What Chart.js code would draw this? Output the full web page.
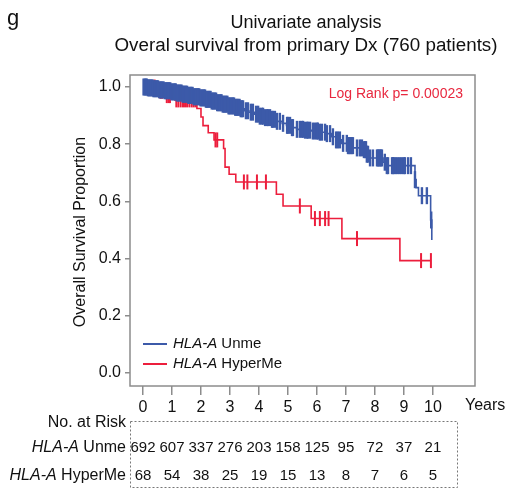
<!DOCTYPE html>
<html>
<head>
<meta charset="utf-8">
<script src="https://cdn.jsdelivr.net/npm/chart.js@4.4.1/dist/chart.umd.min.js"></script>
<style>
  html, body { margin: 0; padding: 0; background: #fff; }
</style>
</head>
<body>
<canvas id="km" width="517" height="497"></canvas>
<script>
// survival steps (time in years, proportion)
const unmeTimes = [0, 0.15, 0.35, 0.55, 0.75, 0.95, 1.15, 1.35, 1.55, 1.75, 1.95, 2.15, 2.35, 2.55, 2.75, 2.95,
  3.15, 3.35, 3.5, 3.65, 3.85, 4.0, 4.2, 4.4, 4.6, 4.8, 4.95, 5.1, 5.3, 5.55, 5.8, 6.05, 6.3, 6.5, 6.65, 6.85,
  7.05, 7.25, 7.6, 7.72, 7.78, 8.28, 8.35, 9.38, 9.42, 9.5, 9.92, 9.96];
const unmeSurv = [1.0, 0.997, 0.994, 0.99, 0.987, 0.983, 0.979, 0.975, 0.971, 0.966, 0.962, 0.957, 0.951, 0.945, 0.94, 0.934,
  0.929, 0.924, 0.917, 0.912, 0.905, 0.898, 0.893, 0.887, 0.88, 0.873, 0.866, 0.858, 0.852, 0.849, 0.846, 0.842, 0.837, 0.826, 0.815, 0.803,
  0.795, 0.787, 0.781, 0.765, 0.752, 0.737, 0.725, 0.676, 0.648, 0.62, 0.535, 0.465];
const unmeCensor = [0.02, 0.06, 0.1, 0.13, 0.17, 0.21, 0.25, 0.29, 0.33, 0.36, 0.4, 0.44, 0.48, 0.52, 0.56, 0.6, 0.63,
  0.67, 0.71, 0.75, 0.79, 0.83, 0.86, 0.9, 0.94, 0.98, 1.02, 1.06, 1.1, 1.13, 1.17, 1.21, 1.25, 1.29, 1.33, 1.37,
  1.4, 1.44, 1.48, 1.52, 1.56, 1.6, 1.64, 1.67, 1.71, 1.75, 1.79, 1.83, 1.87, 1.9, 1.94, 1.98, 2.02, 2.06, 2.1, 2.14,
  2.17, 2.21, 2.25, 2.29, 2.33, 2.37, 2.41, 2.44, 2.48, 2.52, 2.56, 2.6, 2.64, 2.68, 2.71, 2.75, 2.79, 2.83, 2.87,
  2.91, 2.95, 2.98, 3.02, 3.06, 3.1, 3.14, 3.18, 3.22, 3.25, 3.29, 3.33, 3.37, 3.41, 3.45,
  3.55, 3.62, 3.72, 3.79, 3.9, 3.97, 4.03, 4.1, 4.14, 4.21, 4.28, 4.31, 4.38, 4.45, 4.48, 4.55, 4.62,
  4.72, 4.83, 4.97, 5.0, 5.07, 5.14, 5.17, 5.31, 5.41, 5.48, 5.52, 5.59, 5.66, 5.69, 5.76, 5.86, 5.93, 6.0, 6.03, 6.1,
  6.17, 6.28, 6.34, 6.45, 6.55, 6.66, 6.72, 6.79, 6.9, 7.03, 7.07, 7.1, 7.14, 7.17, 7.21, 7.24, 7.38, 7.48, 7.55, 7.62,
  7.66, 7.69, 7.72, 7.76, 7.83, 7.93, 8.07, 8.1, 8.14, 8.17, 8.21, 8.24, 8.34, 8.41, 8.45, 8.59, 8.62, 8.66, 8.72, 8.79,
  8.86, 8.93, 9.0, 9.03, 9.14, 9.24, 9.38, 9.62, 9.79, 9.94];

const hyperTimes = [0, 0.55, 0.75, 1.1, 1.86, 2.0, 2.07, 2.25, 2.45, 2.78, 2.83, 2.97, 3.2, 4.6, 4.83, 5.8, 6.86, 8.86, 9.93];
const hyperSurv = [1.0, 0.985, 0.97, 0.955, 0.925, 0.895, 0.865, 0.84, 0.815, 0.785, 0.72, 0.695, 0.668, 0.625, 0.584, 0.54, 0.47, 0.393, 0.393];
const hyperCensor = [0.4, 0.6, 0.66, 0.82, 0.88, 0.93, 1.15, 1.22, 1.3, 1.38, 1.45, 1.52, 1.6, 1.68, 1.75, 1.82,
  2.5, 2.56, 3.48, 3.6, 3.93, 4.24, 5.41, 5.93, 6.1, 6.28, 6.4, 7.38, 9.59, 9.93];

const years = [0, 1, 2, 3, 4, 5, 6, 7, 8, 9, 10];
const yTicks = [0, 0.2, 0.4, 0.6, 0.8, 1.0];
const riskUnme = [692, 607, 337, 276, 203, 158, 125, 95, 72, 37, 21];
const riskHyper = [68, 54, 38, 25, 19, 15, 13, 8, 7, 6, 5];

const BLUE = '#3c5aa9';
const RED = '#ec1e3c';
const FONT = '"Liberation Sans", Arial, sans-serif';

function survAt(times, surv, t) {
  let s = surv[0];
  for (let i = 0; i < times.length; i++) {
    if (times[i] <= t) s = surv[i];
  }
  return s;
}

function curve(times, surv, color) {
  return {
    data: times.map((t, i) => ({x: t, y: surv[i]})),
    showLine: true, stepped: true,
    borderColor: color, borderWidth: 1.6,
    pointRadius: 0, fill: false
  };
}

function censor(ct, times, surv, color, w, r) {
  return {
    data: ct.map(t => ({x: t, y: survAt(times, surv, t)})),
    showLine: false,
    pointStyle: 'line', pointRotation: 90, pointRadius: r,
    pointBorderColor: color, pointBorderWidth: w, borderColor: color
  };
}

// "HLA-A" in italics followed by plain text
function mixedText(ctx, x, y, rest, size, align) {
  ctx.font = 'italic ' + size + 'px ' + FONT;
  const w1 = ctx.measureText('HLA-A').width;
  ctx.font = size + 'px ' + FONT;
  const w2 = ctx.measureText(rest).width;
  let x0 = align === 'right' ? x - w1 - w2 : x;
  ctx.textAlign = 'left';
  ctx.font = 'italic ' + size + 'px ' + FONT;
  ctx.fillText('HLA-A', x0, y);
  ctx.font = size + 'px ' + FONT;
  ctx.fillText(rest, x0 + w1, y);
}

const decor = {
  id: 'decor',
  afterDatasetsDraw(chart) {
    const ctx = chart.ctx;
    const a = chart.chartArea;
    const xs = chart.scales.x;
    ctx.save();
    // frame
    ctx.strokeStyle = '#8c8c8c';
    ctx.lineWidth = 1.5;
    ctx.strokeRect(a.left, a.top, a.right - a.left, a.bottom - a.top);

    ctx.fillStyle = '#111';
    ctx.textBaseline = 'middle';
    ctx.font = '22px ' + FONT;
    ctx.textAlign = 'left';
    ctx.fillText('g', 7, 19);

    ctx.textAlign = 'center';
    ctx.font = '18px ' + FONT;
    ctx.fillText('Univariate analysis', 306, 23);
    ctx.font = '18.8px ' + FONT;
    ctx.fillText('Overal survival from primary Dx (760 patients)', 306, 46);

    ctx.fillStyle = '#e8283f';
    ctx.font = '14px ' + FONT;
    ctx.textAlign = 'right';
    ctx.fillText('Log Rank p= 0.00023', 463, 94);

    // y title
    ctx.fillStyle = '#111';
    ctx.save();
    ctx.translate(81, 232);
    ctx.rotate(-Math.PI / 2);
    ctx.font = '16px ' + FONT;
    ctx.textAlign = 'center';
    ctx.fillText('Overall Survival Proportion', 0, 0);
    ctx.restore();

    ctx.font = '16px ' + FONT;
    ctx.textAlign = 'left';
    ctx.fillText('Years', 465, 406);

    // legend
    ctx.lineWidth = 2;
    [[BLUE, ' Unme', 344], [RED, ' HyperMe', 364]].forEach(([c, t, y]) => {
      ctx.strokeStyle = c;
      ctx.beginPath();
      ctx.moveTo(143, y);
      ctx.lineTo(167, y);
      ctx.stroke();
      ctx.fillStyle = '#111';
      mixedText(ctx, 173, y, t, 15, 'left');
    });

    // number at risk table
    ctx.fillStyle = '#111';
    ctx.font = '16px ' + FONT;
    ctx.textAlign = 'right';
    ctx.fillText('No. at Risk', 126, 423);
    ctx.strokeStyle = '#777';
    ctx.lineWidth = 1;
    ctx.setLineDash([2, 2]);
    ctx.strokeRect(130.5, 421.5, 327, 66);
    ctx.setLineDash([]);
    mixedText(ctx, 126, 448, ' Unme', 16, 'right');
    mixedText(ctx, 126, 476, ' HyperMe', 16, 'right');
    ctx.font = '15px ' + FONT;
    ctx.textAlign = 'center';
    years.forEach((yr, i) => {
      const px = xs.getPixelForValue(yr);
      ctx.fillText(String(riskUnme[i]), px, 448);
      ctx.fillText(String(riskHyper[i]), px, 476);
    });
    ctx.restore();
  }
};

new Chart(document.getElementById('km'), {
  type: 'scatter',
  data: {
    datasets: [
      censor(unmeCensor, unmeTimes, unmeSurv, BLUE, 2.4, 8.5),
      curve(unmeTimes, unmeSurv, BLUE),
      censor(hyperCensor, hyperTimes, hyperSurv, RED, 2, 7.5),
      curve(hyperTimes, hyperSurv, RED)
    ]
  },
  options: {
    responsive: false,
    animation: false,
    events: [],
    layout: { padding: { left: 0, right: 42, top: 75, bottom: 0 } },
    plugins: { legend: { display: false }, tooltip: { enabled: false } },
    scales: {
      x: {
        type: 'linear', min: -0.448, max: 11.45,
        afterBuildTicks: ax => { ax.ticks = years.map(v => ({value: v})); },
        afterFit: ax => { ax.height = 111; },
        grid: { drawOnChartArea: false, drawTicks: true, tickLength: 9, color: '#8c8c8c', lineWidth: 1.5 },
        border: { display: false },
        ticks: { color: '#111', font: { family: FONT, size: 16 }, padding: 3, maxRotation: 0, autoSkip: false,
          callback: v => String(v) }
      },
      y: {
        type: 'linear', min: -0.0455, max: 1.042,
        afterBuildTicks: ax => { ax.ticks = yTicks.map(v => ({value: v})); },
        afterFit: ax => { ax.width = 130; },
        grid: { drawOnChartArea: false, drawTicks: true, tickLength: 5, color: '#8c8c8c', lineWidth: 1.5 },
        border: { display: false },
        ticks: { color: '#111', font: { family: FONT, size: 16 }, padding: 4, autoSkip: false,
          callback: v => v.toFixed(1) }
      }
    }
  },
  plugins: [decor]
});
</script>
</body>
</html>
